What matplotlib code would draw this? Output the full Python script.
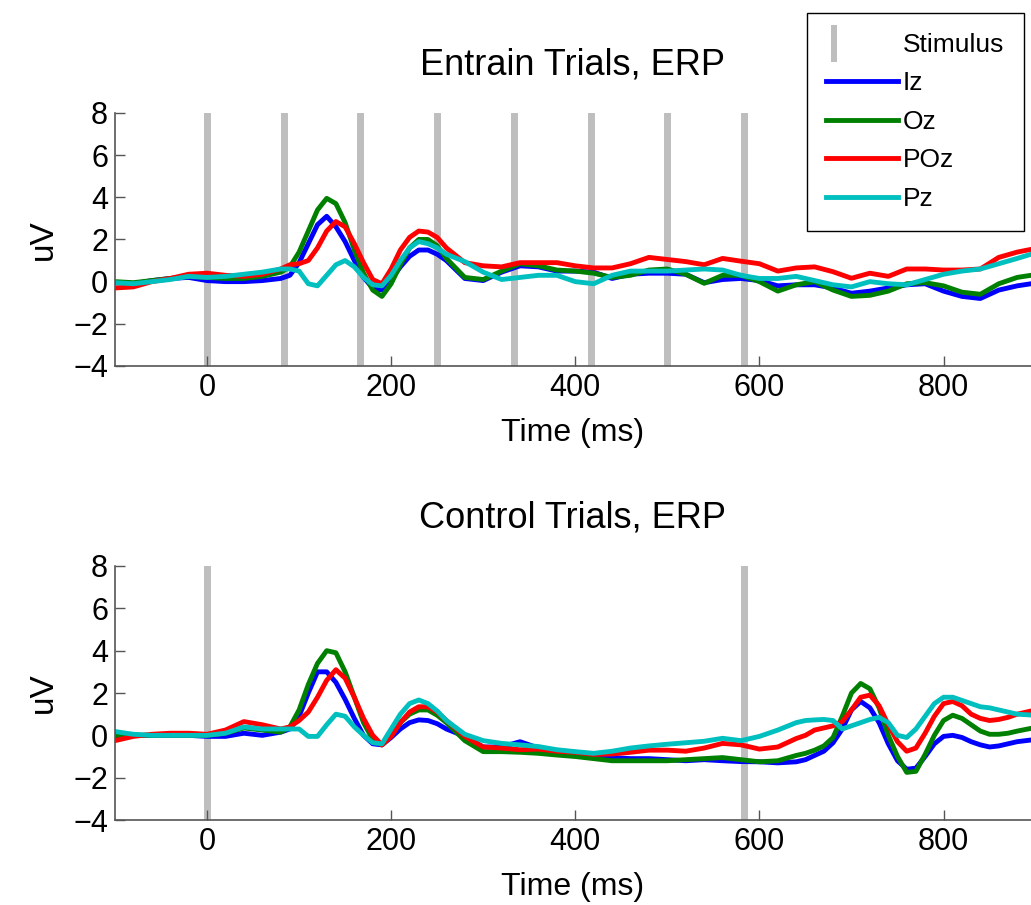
import numpy as np
import matplotlib
matplotlib.use('Agg')
import matplotlib.pyplot as plt
from matplotlib.lines import Line2D
from matplotlib.patches import Rectangle
from matplotlib.legend_handler import HandlerBase

plt.rcParams['font.family'] = ['Liberation Sans', 'DejaVu Sans']

# ---- data (uV vs ms) ----
channels = ['Iz', 'Oz', 'POz', 'Pz']
colors = ['#0000ff', '#008000', '#ff0000', '#00bfbf']

entrain_stim = [0, 83.3, 166.7, 250, 333.3, 416.7, 500, 583.3]
control_stim = [0, 583.3]

t_entrain = [-100, -80, -60, -40, -20, 0, 20, 40, 60, 80,
             90, 100, 110, 120, 130, 140, 150, 160, 170, 180, 190, 200, 210, 220, 230, 240, 250, 260,
             280, 300, 320, 340, 360, 380, 400, 420, 440, 460, 480, 500, 520, 540, 560, 580,
             600, 620, 640, 660, 680, 700, 720, 740, 760, 780, 800, 820, 840, 860, 880, 895]
iz_entrain = [-0.05, -0.1, 0.05, 0.15, 0.2, 0.05, 0.0, 0.0, 0.05, 0.15,
              0.3, 0.9, 1.8, 2.7, 3.1, 2.6, 1.9, 1.0, 0.2, -0.3, -0.4, 0.1, 0.7, 1.2, 1.5, 1.5, 1.3, 1.0,
              0.15, 0.05, 0.45, 0.75, 0.7, 0.5, 0.5, 0.45, 0.15, 0.35, 0.4, 0.4, 0.35, -0.05, 0.1, 0.15,
              0.05, -0.2, -0.15, -0.15, -0.3, -0.55, -0.45, -0.3, -0.15, -0.1, -0.45, -0.7, -0.8, -0.4, -0.2, -0.1]
oz_entrain = [0.0, -0.05, 0.05, 0.15, 0.25, 0.2, 0.15, 0.15, 0.25, 0.45,
              0.7, 1.4, 2.4, 3.4, 3.95, 3.7, 2.8, 1.5, 0.4, -0.4, -0.7, -0.1, 0.8, 1.6, 2.0, 2.0, 1.7, 1.1,
              0.2, 0.1, 0.5, 0.85, 0.75, 0.55, 0.5, 0.4, 0.2, 0.3, 0.55, 0.6, 0.35, -0.08, 0.3, 0.3,
              0.0, -0.45, -0.15, 0.0, -0.4, -0.7, -0.65, -0.45, -0.1, -0.05, -0.2, -0.5, -0.6, -0.1, 0.2, 0.3]
poz_entrain = [-0.3, -0.25, 0.0, 0.15, 0.35, 0.4, 0.3, 0.25, 0.35, 0.6,
               0.8, 0.85, 1.0, 1.6, 2.4, 2.85, 2.6, 1.8, 0.9, 0.1, -0.1, 0.6, 1.5, 2.1, 2.4, 2.35, 2.1, 1.6,
               0.9, 0.75, 0.7, 0.9, 0.9, 0.9, 0.75, 0.65, 0.65, 0.85, 1.15, 1.05, 0.95, 0.8, 1.1, 0.97,
               0.85, 0.5, 0.65, 0.7, 0.47, 0.16, 0.4, 0.25, 0.6, 0.6, 0.55, 0.55, 0.6, 1.15, 1.4, 1.53]
pz_entrain = [-0.05, -0.1, 0.0, 0.1, 0.25, 0.2, 0.25, 0.35, 0.45, 0.6,
              0.6, 0.5, -0.1, -0.2, 0.3, 0.8, 1.0, 0.7, 0.2, -0.15, -0.2, 0.3, 1.0, 1.6, 1.9, 1.8, 1.6, 1.3,
              0.95, 0.45, 0.1, 0.2, 0.3, 0.3, 0.0, -0.1, 0.3, 0.5, 0.5, 0.5, 0.55, 0.6, 0.55, 0.3,
              0.15, 0.15, 0.25, 0.05, -0.15, -0.25, 0.0, -0.1, -0.15, 0.1, 0.35, 0.5, 0.6, 0.85, 1.1, 1.3]

t_control = [-100, -80, -60, -40, -20, 0, 20, 40, 60, 80,
             90, 100, 110, 120, 130, 140, 150, 160, 170, 180, 190, 200, 210, 220, 230, 240, 250, 260,
             280, 300, 320, 340, 360, 380, 400, 420, 440, 460, 480, 500, 520, 540, 560, 580, 600, 620, 640,
             650, 660, 670, 680, 690, 700, 710, 720, 730, 740, 750, 760, 770, 780, 790, 800,
             810, 820, 830, 840, 850, 860, 870, 880, 895]
iz_control = [-0.05, 0.0, 0.0, 0.0, 0.0, -0.05, -0.05, 0.1, 0.0, 0.15,
              0.3, 0.9, 2.0, 3.0, 3.0, 2.5, 1.7, 0.8, 0.0, -0.4, -0.45, -0.1, 0.3, 0.6, 0.73, 0.7, 0.55, 0.3,
              -0.05, -0.55, -0.55, -0.3, -0.6, -0.75, -0.85, -1.0, -1.05, -1.1, -1.1, -1.15, -1.2, -1.15, -1.2, -1.24, -1.25, -1.3, -1.25,
              -1.15, -0.95, -0.75, -0.35, 0.3, 1.2, 1.6, 1.3, 0.6, -0.4, -1.2, -1.6, -1.55, -1.0, -0.4, -0.05,
              0.0, -0.1, -0.3, -0.45, -0.55, -0.5, -0.4, -0.3, -0.22]
oz_control = [0.0, 0.0, 0.0, 0.0, 0.0, 0.0, 0.1, 0.35, 0.25, 0.15,
              0.4, 1.2, 2.4, 3.4, 4.0, 3.9, 3.0, 1.8, 0.6, -0.2, -0.45, 0.0, 0.6, 1.0, 1.2, 1.2, 0.95, 0.6,
              -0.25, -0.77, -0.77, -0.8, -0.85, -0.93, -1.0, -1.1, -1.2, -1.2, -1.2, -1.2, -1.15, -1.1, -1.05, -1.15, -1.25, -1.2, -0.95,
              -0.85, -0.7, -0.5, -0.1, 0.9, 2.0, 2.45, 2.2, 1.3, 0.0, -1.0, -1.75, -1.7, -0.9, 0.0, 0.7,
              0.95, 0.8, 0.5, 0.2, 0.05, 0.05, 0.1, 0.2, 0.33]
poz_control = [-0.25, -0.05, 0.05, 0.1, 0.1, 0.05, 0.25, 0.65, 0.5, 0.3,
               0.4, 0.7, 1.1, 1.8, 2.6, 3.1, 2.7, 1.8, 0.8, 0.0, -0.45, -0.05, 0.6, 1.1, 1.35, 1.35, 1.1, 0.7,
               -0.05, -0.55, -0.6, -0.68, -0.65, -0.75, -0.8, -0.9, -0.88, -0.8, -0.7, -0.7, -0.75, -0.6, -0.38, -0.45, -0.65, -0.55, -0.15,
               0.0, 0.25, 0.35, 0.45, 0.65, 1.2, 1.8, 1.9, 1.4, 0.5, -0.3, -0.75, -0.6, 0.1, 0.9, 1.5,
               1.6, 1.4, 1.0, 0.8, 0.7, 0.75, 0.85, 1.0, 1.15]
pz_control = [0.18, 0.05, 0.0, 0.0, 0.0, 0.0, 0.1, 0.4, 0.3, 0.3,
              0.3, 0.3, -0.05, -0.05, 0.5, 1.0, 0.9, 0.4, 0.0, -0.35, -0.4, 0.3, 1.0, 1.5, 1.67, 1.5, 1.15, 0.7,
              0.05, -0.25, -0.38, -0.45, -0.53, -0.68, -0.77, -0.85, -0.75, -0.6, -0.5, -0.42, -0.35, -0.28, -0.14, -0.25, -0.05, 0.25, 0.6,
              0.7, 0.73, 0.75, 0.7, 0.3, 0.45, 0.6, 0.75, 0.85, 0.6, 0.0, -0.1, 0.3, 0.9, 1.5, 1.8,
              1.8, 1.65, 1.5, 1.35, 1.3, 1.2, 1.1, 1.0, 0.96]

STIM_COLOR = '#bebebe'


class StimHandler(HandlerBase):
    # short vertical gray bar, like the matlab legend
    def create_artists(self, legend, orig, xd, yd, w, h, fontsize, trans):
        r = Rectangle((xd + 0.07 * w, yd - 0.55 * h), 0.085 * w, 2.0 * h,
                      facecolor=STIM_COLOR, edgecolor='none', transform=trans)
        return [r]


def erp_panel(ax, t, traces, stims, title):
    for s in stims:
        ax.axvline(s, color=STIM_COLOR, lw=5, zorder=1)
    for y, c in zip(traces, colors):
        ax.plot(t, y, color=c, lw=3.5, zorder=2, solid_joinstyle='round')
    ax.set_xlim(-100, 895)
    ax.set_ylim(-4, 8)
    ax.set_xticks([0, 200, 400, 600, 800])
    ax.set_yticks([-4, -2, 0, 2, 4, 6, 8])
    ax.set_yticklabels(['\u22124', '\u22122', '0', '2', '4', '6', '8'])
    ax.tick_params(direction='in', length=7, width=1, color='#555555', labelsize=22, pad=5)
    for side in ['top', 'right']:
        ax.spines[side].set_visible(False)
    for side in ['left', 'bottom']:
        ax.spines[side].set_color('#555555')
        ax.spines[side].set_linewidth(1.2)
    ax.set_xlabel('Time (ms)', fontsize=23, labelpad=11)
    ax.set_ylabel('uV', fontsize=24, labelpad=10)
    ax.set_title(title, fontsize=26, pad=28)


fig = plt.figure(figsize=(10.31, 9.05), dpi=100)
ax1 = fig.add_axes([0.1115, 0.5956, 0.8885, 0.2796])
ax2 = fig.add_axes([0.1115, 0.0939, 0.8885, 0.2807])

erp_panel(ax1, t_entrain, [iz_entrain, oz_entrain, poz_entrain, pz_entrain], entrain_stim,
          'Entrain Trials, ERP')
erp_panel(ax2, t_control, [iz_control, oz_control, poz_control, pz_control], control_stim,
          'Control Trials, ERP')

handles = [Rectangle((0, 0), 1, 1)] + [Line2D([], [], color=c, lw=3.5) for c in colors]
labels = ['Stimulus'] + channels
leg = fig.legend(handles, labels, loc='upper right', bbox_to_anchor=(1024 / 1031, 1 - 13 / 905),
                 fontsize=19, handlelength=2.7, handletextpad=0.2, labelspacing=0.55,
                 borderpad=0.75, borderaxespad=0, fancybox=False, framealpha=1,
                 handler_map={Rectangle: StimHandler()})
leg.get_frame().set_edgecolor('black')
leg.get_frame().set_linewidth(1.0)

fig.savefig('out.png', dpi=100)
